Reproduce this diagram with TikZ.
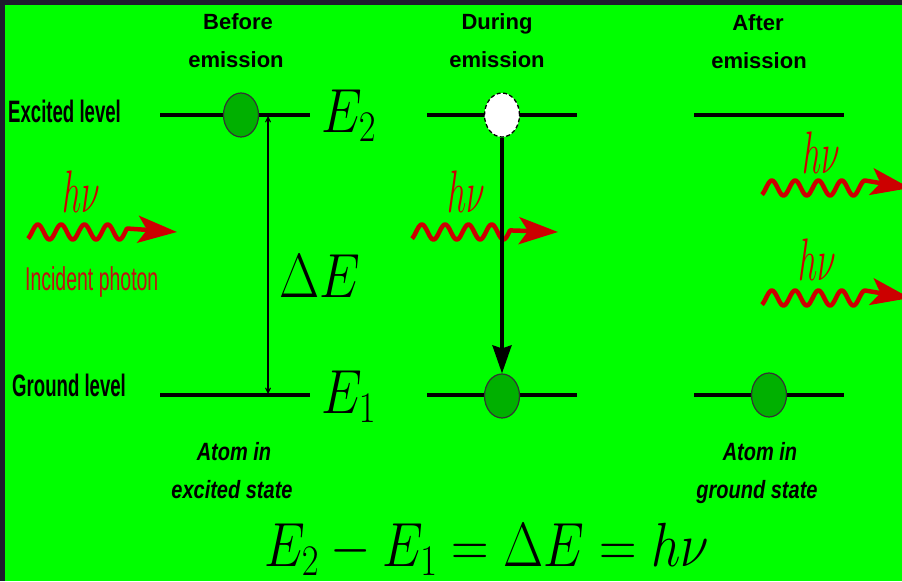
\RequirePackage{fix-cm}
\documentclass[tikz,border=0pt]{standalone}
\usepackage{fontspec}
\usepackage{graphicx}
\usetikzlibrary{arrows.meta,shapes.geometric}
\newfontfamily\lsans{Liberation Sans}
\definecolor{bggreen}{RGB}{0,255,0}
\definecolor{framecol}{RGB}{30,30,46}
\definecolor{elec}{RGB}{0,176,0}
\definecolor{phred}{RGB}{204,0,0}
\definecolor{txtred}{RGB}{192,16,16}
\newcommand{\photonwave}[4]{%
  \draw[photon] plot[domain=#1:#2,samples=120] (\x,{#4-7.5*sin(((\x-#1-4)/23.3)*360)}) -- (#3,#4);}
\newcommand{\bigmath}[1]{\scalebox{1}[1.2]{\fontsize{52}{52}\selectfont$#1$}}
\begin{document}
\begin{tikzpicture}[x=1pt,y=-1pt,
  level/.style={line width=4pt},
  electron/.style={ellipse,draw=black!80,line width=1.2pt,fill=elec,minimum width=35pt,minimum height=44pt,inner sep=0pt},
  hole/.style={ellipse,draw=black,dashed,dash pattern=on 4pt off 2.5pt,line width=1.3pt,fill=white,minimum width=35pt,minimum height=44pt,inner sep=0pt},
  photon/.style={draw=phred,line width=4.5pt,line join=round,-{Stealth[length=39pt,width=27pt,inset=9pt]}},
  head/.style={inner sep=0pt,anchor=base,font=\lsans\bfseries\fontsize{22}{22}\selectfont},
  state/.style={inner sep=0pt,anchor=base,font=\lsans\bfseries\itshape\fontsize{20}{20}\selectfont},
  side/.style={inner sep=0pt,anchor=base west,font=\lsans\fontsize{31}{31}\selectfont},
  mathlab/.style={inner sep=0pt,anchor=base west},
  hnu/.style={inner sep=0pt,anchor=base west,text=phred}]
\useasboundingbox (0,0) rectangle (902,581);
\fill[framecol] (0,0) rectangle (902,581);
\fill[bggreen] (5,5) rectangle (902,581);
\begin{scope}
\clip (5,5) rectangle (902,581);
% headings
\node[head] (h1a) at (238,29) {Before};
\node[head] (h1b) at (236,67) {emission};
\node[head] (h2a) at (497,29) {During};
\node[head] (h2b) at (497,67) {emission};
\node[head] (h3a) at (758,30) {After};
\node[head] (h3b) at (759,68) {emission};
% side labels
\node[side] (exl) at (8,122) {\scalebox{0.6}[1]{\bfseries Excited level}};
\node[side] (grl) at (12,396) {\scalebox{0.6}[1]{\bfseries Ground level}};
% level coordinates
\coordinate (b2l) at (160,115); \coordinate (b2r) at (310,115);
\coordinate (b1l) at (160,395); \coordinate (b1r) at (310,395);
\coordinate (d2l) at (427,115); \coordinate (d2r) at (577,115);
\coordinate (d1l) at (427,395); \coordinate (d1r) at (577,395);
\coordinate (a2l) at (694,115); \coordinate (a2r) at (844,115);
\coordinate (a1l) at (694,395); \coordinate (a1r) at (844,395);
\draw[level] (b2l) -- (b2r);
\draw[level] (b1l) -- (b1r);
\draw[level] (d2l) -- (d2r);
\draw[level] (d1l) -- (d1r);
\draw[level] (a2l) -- (a2r);
\draw[level] (a1l) -- (a1r);
% Delta E arrow
\coordinate (dEt) at (268,116);
\coordinate (dEb) at (268,394);
\draw[line width=1.1pt,{Straight Barb[length=5pt,width=5pt]}-{Straight Barb[length=5pt,width=5pt]}] (dEt) -- (dEb);
% energy labels
\node[mathlab] (E2) at (321,132) {\bigmath{E_2}};
\node[mathlab] (E1) at (321,413) {\bigmath{E_1}};
\node[mathlab] (dE) at (279,297) {\bigmath{\Delta E}};
% photons
\photonwave{28}{127}{177}{232}
\node[hnu] (hv1) at (62,212) {\scalebox{0.85}[1.5]{\fontsize{40}{40}\selectfont$h\nu$}};
\node[side,text=txtred] (inc) at (25,290) {\scalebox{0.59}[1]{\fontsize{33}{33}\selectfont Incident photon}};
\photonwave{412}{510}{558}{232}
\node[hnu] (hv2) at (447,212) {\scalebox{0.85}[1.5]{\fontsize{40}{40}\selectfont$h\nu$}};
\photonwave{762}{865}{910}{188}
\node[hnu] (hv3) at (802,173) {\scalebox{0.85}[1.5]{\fontsize{40}{40}\selectfont$h\nu$}};
\photonwave{762}{865}{910}{298}
\node[hnu] (hv4) at (798,280) {\scalebox{0.85}[1.5]{\fontsize{40}{40}\selectfont$h\nu$}};
% electrons
\node[electron] (eb) at (241,115) {};
\node[hole] (ed2) at (502,115) {};
\node[electron] (ed1) at (502,396) {};
\node[electron] (ea) at (769,395) {};
\draw[line width=3.5pt,-{Stealth[length=28pt,width=19pt,inset=3pt]}] (ed2.south) -- (ed1.north);
% state labels
\node[state] (s1a) at (234,460) {\scalebox{1}[1.25]{Atom in}};
\node[state] (s1b) at (232,498) {\scalebox{1}[1.25]{excited state}};
\node[state] (s3a) at (760,460) {\scalebox{1}[1.25]{Atom in}};
\node[state] (s3b) at (757,498) {\scalebox{1}[1.25]{ground state}};
% equation
\node[mathlab] (eq) at (264,566) {\bigmath{E_2-E_1=\Delta E=h\nu}};
\end{scope}
\end{tikzpicture}
\end{document}
